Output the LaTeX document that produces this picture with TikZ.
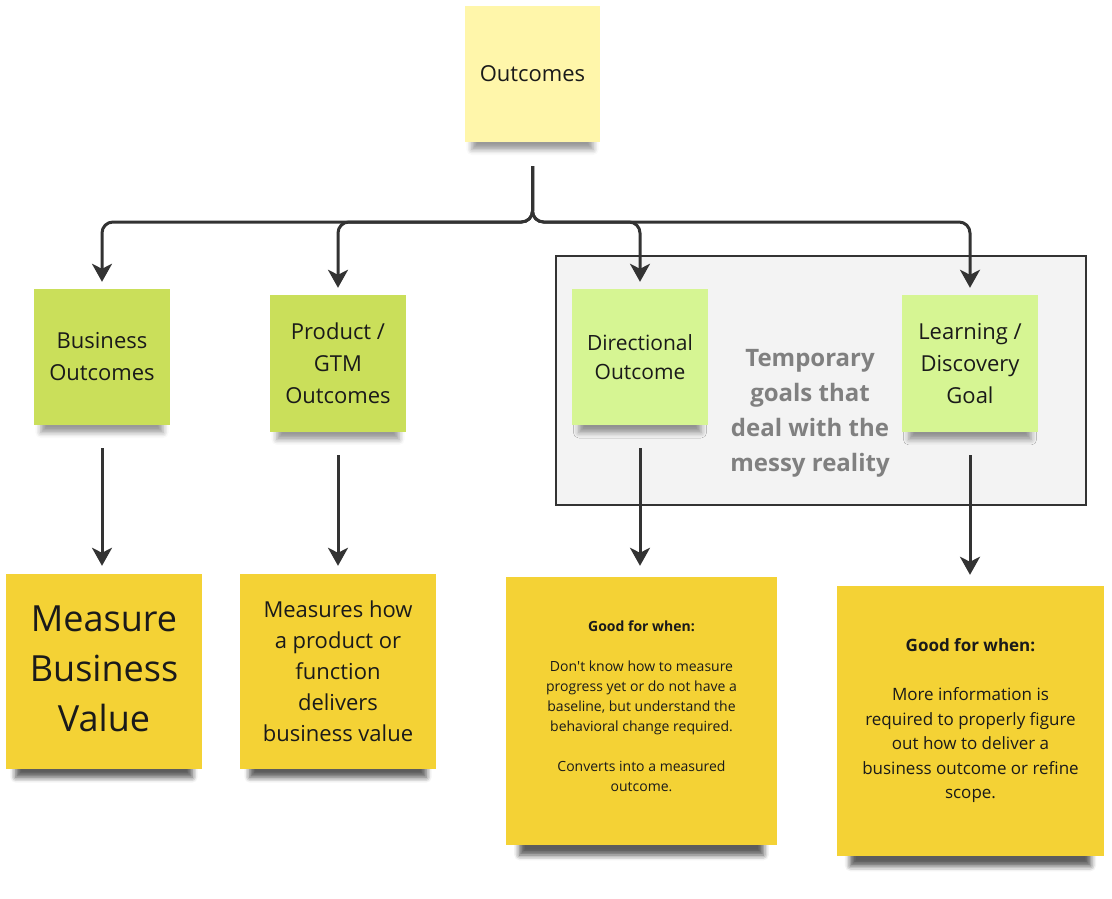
\documentclass[tikz,border=0pt]{standalone}
\usepackage{fontspec}
\setmainfont{Open Sans}
\newfontfamily\plainapos{Open Sans}
\usetikzlibrary{arrows.meta,shadows.blur}
\definecolor{cPale}{HTML}{FFF6AA}
\definecolor{cGreen}{HTML}{CADF5A}
\definecolor{cLight}{HTML}{D6F593}
\definecolor{cYel}{HTML}{F4D235}
\definecolor{cLine}{HTML}{333333}
\definecolor{cTxt}{HTML}{1A1A1A}
\definecolor{cGrayTxt}{HTML}{808080}
\definecolor{cBox}{HTML}{F3F3F3}
\begin{document}
\begin{tikzpicture}[x=1pt,y=-1pt,
  note/.style={rectangle, inner sep=0pt, align=center, text=cTxt,
    minimum width=136pt, minimum height=136pt,
    font=\fontsize{22}{32}\selectfont, noteshadow=16pt},
  noteshadow/.style={blur shadow={shadow xshift=0pt, shadow yshift=-#1, shadow scale=0.9,
      shadow opacity=40, shadow blur radius=6pt}},
  bignote/.style={note, noteshadow=20pt},
  hugenote/.style={note, noteshadow=26pt},
  lbl/.style={align=center, text=cTxt, inner sep=0pt},
  arr/.style={draw=cLine, line width=3pt,
    -{Stealth[length=18pt,width=20pt,inset=5pt]}},
  grp/.style={draw=cLine, line width=2pt, fill=cBox, inner sep=0pt}]
\useasboundingbox (0,0) rectangle (1112,899);

% group box
\node[grp, minimum width=530pt, minimum height=249pt] (box) at (821,380.5) {};
\node[align=center, text=cGrayTxt, font=\bfseries\fontsize{24}{35}\selectfont] (tmp) at (810,413)
  {Temporary\\goals that\\deal with the\\messy reality};

% notes
\node[note, fill=cPale, minimum width=135pt] (out) at (532.5,74) {Outcomes};
\node[note, fill=cGreen] (bo) at (102,357) {Business\\Outcomes};
\node[note, fill=cGreen, minimum height=137pt] (pg) at (338,363.5) {Product /\\GTM\\Outcomes};
\node[note, fill=cLight, font=\fontsize{21}{29}\selectfont] (dir) at (640,357) {Directional\\Outcome};
\node[note, fill=cLight, minimum height=137pt] (lrn) at (970,363.5) {Learning /\\Discovery\\Goal};

\node[bignote, fill=cYel, minimum width=196pt, minimum height=195pt,
  label={[lbl, name=mbvt, yshift=3pt, font=\fontsize{36}{50}\selectfont]center:{Measure\\Business\\Value}}]
  (mbv) at (104,671.5) {};
\node[bignote, fill=cYel, minimum width=196pt, minimum height=195pt,
  font=\fontsize{22}{31}\selectfont] (mhw) at (338,671.5)
  {Measures how\\a product or\\function\\delivers\\business value};
\node[hugenote, fill=cYel, minimum width=271pt, minimum height=268pt,
  label={[lbl, name=ddt, yshift=4.5pt, font=\fontsize{14}{20}\selectfont]center:{\textbf{Good for when:}\\[20pt]Don{\plainapos '}t know how to measure\\progress yet or do not have a\\baseline, but understand the\\behavioral change required.\\[20pt]Converts into a measured\\outcome.}}]
  (dd) at (641.5,711) {};
\node[hugenote, fill=cYel, minimum width=267pt, minimum height=270pt,
  font=\fontsize{17}{24.5}\selectfont] (ld) at (970.5,721)
  {\textbf{Good for when:}\\[24.5pt]More information is\\required to properly figure\\out how to deliver a\\business outcome or refine\\scope.};

% connectors
\coordinate (bar) at (532.5,222);
\draw[arr, rounded corners=11pt, shorten <=24pt, shorten >=7pt] (out.south) -- (bar) -| (bo.north);
\draw[arr, rounded corners=11pt, shorten <=24pt, shorten >=7pt] (out.south) -- (bar) -| (pg.north);
\draw[arr, rounded corners=11pt, shorten <=24pt, shorten >=7pt] (out.south) -- (bar) -| (dir.north);
\draw[arr, rounded corners=11pt, shorten <=24pt, shorten >=7pt] (out.south) -- (bar) -| (lrn.north);

\draw[arr, shorten <=23pt, shorten >=8pt] (bo.south) -- (bo.south |- mbv.north);
\draw[arr, shorten <=23pt, shorten >=8pt] (pg.south) -- (pg.south |- mhw.north);
\draw[arr, shorten <=23pt, shorten >=11pt] (dir.south) -- (dir.south |- dd.north);
\draw[arr, shorten <=23pt, shorten >=11pt] (lrn.south) -- (lrn.south |- ld.north);
\end{tikzpicture}
\end{document}
